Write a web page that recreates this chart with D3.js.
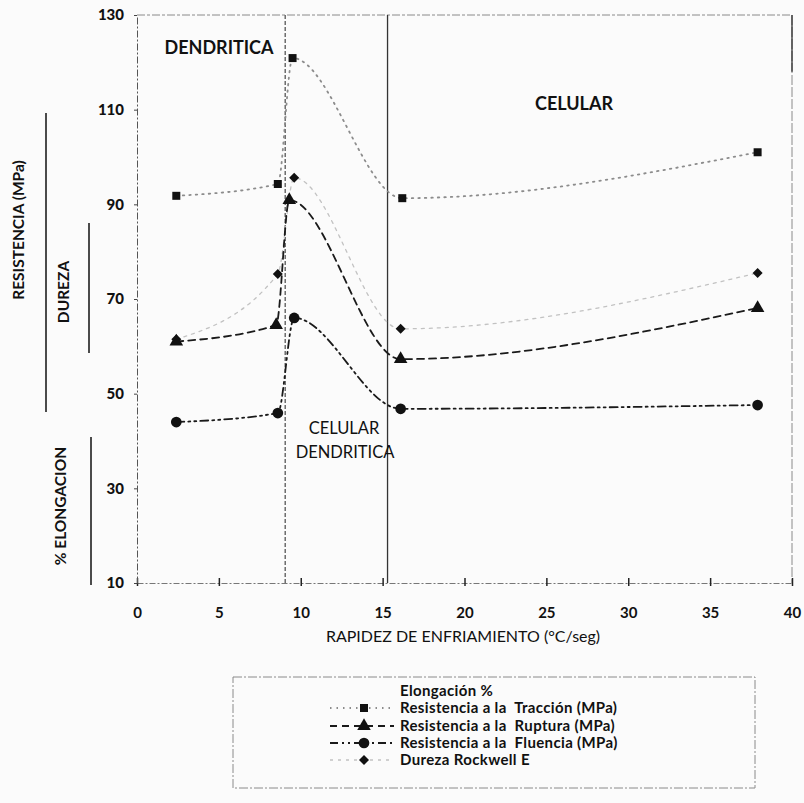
<!DOCTYPE html>
<html>
<head>
<meta charset="utf-8">
<script src="https://cdn.jsdelivr.net/npm/d3@7"></script>
<style>
  html, body { margin: 0; padding: 0; background: #fbfbfb; }
  svg { display: block; }
  text { font-family: Lato, "Open Sans", sans-serif; fill: #111; }
</style>
</head>
<body>
<svg id="chart" width="804" height="803"></svg>
<script>
// Cooling rate (°C/s) and measured properties for each series
const traccionX = [2.4, 8.6, 9.5, 16.2, 37.9];
const traccionY = [91.8, 94.3, 120.9, 91.3, 101.0];
const rupturaX  = [2.4, 8.5, 9.3, 16.1, 37.9];
const rupturaY  = [61.0, 64.5, 90.9, 57.3, 68.1];
const fluenciaX = [2.4, 8.6, 9.6, 16.1, 37.9];
const fluenciaY = [44.0, 45.9, 66.0, 46.8, 47.6];
const durezaX   = [2.4, 8.6, 9.6, 16.1, 37.9];
const durezaY   = [61.5, 75.3, 95.6, 63.7, 75.5];

// Axis ticks and structure-region boundaries
const xTicks = [0, 5, 10, 15, 20, 25, 30, 35, 40];
const yTicks = [10, 30, 50, 70, 90, 110, 130];
const boundaries = [9.05, 15.3];

const legendLabels = [
  "Elongación %",
  "Resistencia a la  Tracción (MPa)",
  "Resistencia a la  Ruptura (MPa)",
  "Resistencia a la  Fluencia (MPa)",
  "Dureza Rockwell E"
];

const svg = d3.select("#chart");
const x = d3.scaleLinear().domain([0, 40]).range([137, 792]);
const y = d3.scaleLinear().domain([10, 130]).range([583, 15]);

// Plot frame (faint dashed)
const frame = svg.append("g").attr("stroke", "#8a8a8a").attr("fill", "none");
frame.append("line").attr("x1", x(0)).attr("x2", x(40)).attr("y1", y(130)).attr("y2", y(130))
  .attr("stroke-dasharray", "8,2,3,2").attr("stroke-width", 1);
frame.append("line").attr("x1", x(40)).attr("x2", x(40)).attr("y1", y(130)).attr("y2", y(10))
  .attr("stroke-dasharray", "10,2").attr("stroke-width", 1);
svg.append("line").attr("x1", x(40)).attr("x2", x(40)).attr("y1", y(130)).attr("y2", y(118))
  .attr("stroke", "#222").attr("stroke-width", 1.2);

// X axis
const xAxis = svg.append("g").attr("transform", `translate(0,${y(10)})`)
  .call(d3.axisBottom(x).tickValues(xTicks).tickSizeInner(-5).tickSizeOuter(0).tickPadding(24));
xAxis.select(".domain").attr("stroke", "#777").attr("stroke-dasharray", "6,2,2,2");
xAxis.selectAll(".tick line").attr("stroke", "#222").attr("stroke-width", 1.5).attr("y1", 3);
xAxis.selectAll(".tick text").attr("font-family", "Lato, sans-serif").attr("font-size", 15)
  .attr("font-weight", 700).attr("fill", "#222");

// Y axis
const yAxis = svg.append("g").attr("transform", `translate(${x(0)},0)`)
  .call(d3.axisLeft(y).tickValues(yTicks).tickSizeInner(3).tickSizeOuter(0).tickPadding(10));
yAxis.select(".domain").attr("stroke", "#555").attr("stroke-dasharray", "7,2,2,2");
yAxis.selectAll(".tick line").attr("stroke", "#444");
yAxis.selectAll(".tick text").attr("font-family", "Lato, sans-serif").attr("font-size", 15)
  .attr("font-weight", 900).attr("fill", "#111");

// Axis titles
svg.append("text").attr("x", 463).attr("y", 642)
  .attr("text-anchor", "middle").attr("font-size", 16).attr("fill", "#222")
  .text("RAPIDEZ DE ENFRIAMIENTO (°C/seg)");

function sideTitle(tx, ty, label) {
  svg.append("text").attr("transform", `translate(${tx},${ty}) rotate(-90)`)
    .attr("text-anchor", "middle").attr("font-size", 15.5).attr("font-weight", 700)
    .text(label);
}
sideTitle(24, 230, "RESISTENCIA (MPa)");
sideTitle(69, 292, "DUREZA");
sideTitle(66, 506, "% ELONGACION");
const sideRules = svg.append("g").attr("stroke", "#111").attr("stroke-width", 1.5);
sideRules.append("line").attr("x1", 46).attr("x2", 46).attr("y1", 113).attr("y2", 412);
sideRules.append("line").attr("x1", 89).attr("x2", 89).attr("y1", 223).attr("y2", 353);
sideRules.append("line").attr("x1", 91).attr("x2", 91).attr("y1", 437).attr("y2", 585);

// Region boundaries
svg.append("line").attr("x1", x(boundaries[0])).attr("x2", x(boundaries[0]))
  .attr("y1", y(130)).attr("y2", y(10))
  .attr("stroke", "#555").attr("stroke-width", 1.3).attr("stroke-dasharray", "4,2");
svg.append("line").attr("x1", x(boundaries[1])).attr("x2", x(boundaries[1]))
  .attr("y1", y(130)).attr("y2", y(10))
  .attr("stroke", "#333").attr("stroke-width", 1.3);

// Region labels
svg.append("text").attr("x", 219).attr("y", 54).attr("text-anchor", "middle")
  .attr("font-size", 18).attr("font-weight", 700).text("DENDRITICA");
svg.append("text").attr("x", 574).attr("y", 110).attr("text-anchor", "middle")
  .attr("font-size", 18).attr("font-weight", 700).text("CELULAR");
svg.append("text").attr("x", 344).attr("y", 434).attr("text-anchor", "middle")
  .attr("font-size", 16.5).attr("fill", "#222").text("CELULAR");
svg.append("text").attr("x", 345).attr("y", 458).attr("text-anchor", "middle")
  .attr("font-size", 16.5).attr("fill", "#222").text("DENDRITICA");

// Series curves
const series = [
  { xs: durezaX,   ys: durezaY,   stroke: "#c2c2c2", width: 1.3, dash: "3,5",        shape: "diamond" },
  { xs: traccionX, ys: traccionY, stroke: "#8c8c8c", width: 1.8, dash: "1.5,5",      shape: "square" },
  { xs: rupturaX,  ys: rupturaY,  stroke: "#1a1a1a", width: 1.8, dash: "7,5",        shape: "triangle" },
  { xs: fluenciaX, ys: fluenciaY, stroke: "#1a1a1a", width: 1.8, dash: "8,4,2,4,2,4", shape: "circle" }
];

const line = d3.line().x(d => x(d[0])).y(d => y(d[1])).curve(d3.curveMonotoneX);

const symbolFor = {
  square:   d3.symbol().type(d3.symbolSquare).size(64),
  triangle: d3.symbol().type(d3.symbolTriangle).size(80),
  circle:   d3.symbol().type(d3.symbolCircle).size(90),
  diamond:  d3.symbol().type(d3.symbolSquare).size(50)
};
const rotFor = { square: 0, triangle: 0, circle: 0, diamond: 45 };

series.forEach(s => {
  const pts = s.xs.map((v, i) => [v, s.ys[i]]);
  svg.append("path").datum(pts).attr("d", line).attr("fill", "none")
    .attr("stroke", s.stroke).attr("stroke-width", s.width)
    .attr("stroke-dasharray", s.dash).attr("stroke-linecap", "round");
});
series.forEach(s => {
  const pts = s.xs.map((v, i) => [v, s.ys[i]]);
  svg.append("g").selectAll("path").data(pts).join("path")
    .attr("transform", d => `translate(${x(d[0])},${y(d[1])}) rotate(${rotFor[s.shape]})`)
    .attr("d", symbolFor[s.shape]()).attr("fill", "#111");
});

// Legend
const lg = svg.append("g");
lg.append("rect").attr("x", 233).attr("y", 677).attr("width", 522).attr("height", 111)
  .attr("fill", "none").attr("stroke", "#8a8a8a").attr("stroke-dasharray", "9,2,2,2");
const rowY = [691, 708, 726, 743, 760];
legendLabels.forEach((t, i) => {
  lg.append("text").attr("x", 400).attr("y", rowY[i] + 5).attr("font-size", 15)
    .attr("font-weight", 700).attr("letter-spacing", 0.35)
    .style("white-space", "pre").text(t);
});
const legendSeries = [series[1], series[2], series[3], series[0]];
legendSeries.forEach((s, i) => {
  const yy = rowY[i + 1];
  lg.append("line").attr("x1", 330).attr("x2", 394).attr("y1", yy).attr("y2", yy)
    .attr("stroke", s.stroke).attr("stroke-width", s.width)
    .attr("stroke-dasharray", s.dash);
  lg.append("path").attr("transform", `translate(364,${yy}) rotate(${rotFor[s.shape]})`)
    .attr("d", symbolFor[s.shape]()).attr("fill", "#111");
});
</script>
</body>
</html>
